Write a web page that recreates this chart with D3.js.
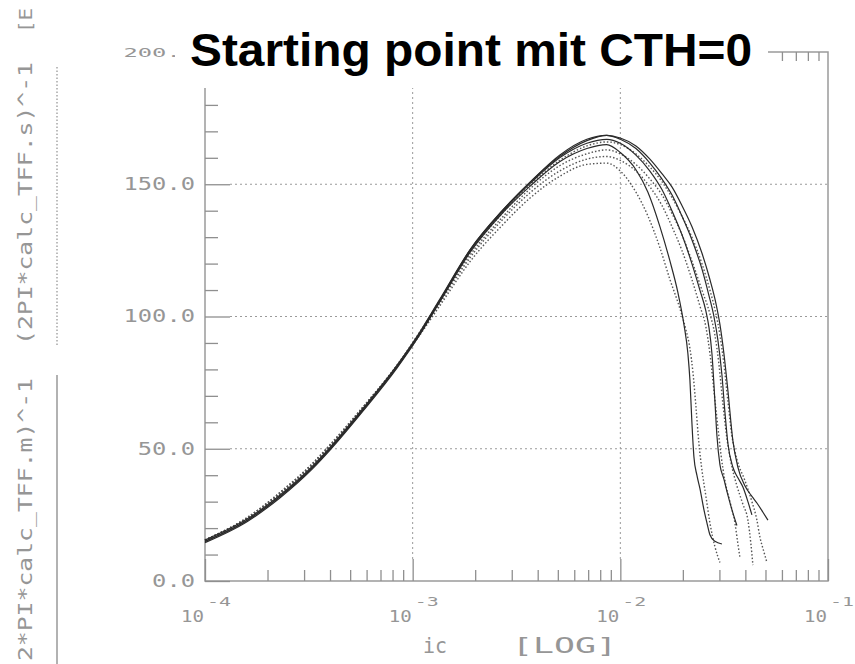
<!DOCTYPE html>
<html>
<head>
<meta charset="utf-8">
<script src="https://cdn.jsdelivr.net/npm/d3@7"></script>
<style>
  body { margin: 0; background: #fff; }
  .plot text { font-family: "DejaVu Sans Mono", monospace; fill: #969696; }
  .grid { stroke: #9a9a9a; stroke-width: 1; stroke-dasharray: 2,3; }
  .frame { stroke: #9a9a9a; stroke-width: 1.5; fill: none; }
  .axis path { display: none; }
  .axis line { stroke: #8f8f8f; stroke-width: 1.3; }
</style>
</head>
<body>
<svg id="chart" width="855" height="664"></svg>
<script>
// rising part, shared collector currents
var icGrid = [1.0e-4, 1.6e-4, 2.3e-4, 3.3e-4, 4.0e-4, 5.8e-4, 8.4e-4, 1.05e-3, 1.35e-3, 1.9e-3, 2.7e-3, 3.7e-3, 5.1e-3, 6.9e-3, 8.6e-3];

// measured (solid)
var m1Rise = [14.5, 22.5, 31.5, 42.5, 49.5, 64.5, 80.5, 91.5, 105.5, 124.5, 139, 149.5, 158.5, 163.5, 165];
var m2Rise = [15, 23, 32, 43, 50, 65, 81, 92, 106, 125, 139.5, 150.5, 160, 165.5, 167];
var m3Rise = [15, 23, 32, 43, 50, 65, 81, 92, 106, 125.5, 140, 151, 160.5, 166.5, 168.5];
var m4Rise = [15.5, 23.5, 32.5, 43.5, 50.5, 65.5, 81.5, 92.5, 106.5, 125.5, 140, 151, 161, 167, 168.5];
var m1Fall = [[1.0e-2, 162], [1.189e-2, 155.5], [1.358e-2, 147], [1.551e-2, 134], [1.733e-2, 121], [1.894e-2, 109], [2.024e-2, 97], [2.115e-2, 86], [2.163e-2, 76], [2.211e-2, 60], [2.261e-2, 47], [2.337e-2, 40], [2.416e-2, 35], [2.526e-2, 27], [2.612e-2, 22], [2.700e-2, 17.5], [2.854e-2, 15], [3.084e-2, 14]];
var m2Fall = [[1.0e-2, 165.5], [1.189e-2, 161], [1.388e-2, 155], [1.586e-2, 148], [1.772e-2, 140], [1.979e-2, 131], [2.211e-2, 120], [2.416e-2, 110], [2.583e-2, 102], [2.670e-2, 96], [2.761e-2, 86], [2.854e-2, 68], [2.918e-2, 55], [3.017e-2, 44], [3.153e-2, 38.5], [3.296e-2, 32.5], [3.445e-2, 27], [3.642e-2, 21]];
var m3Fall = [[1.0e-2, 167], [1.189e-2, 163.5], [1.388e-2, 158], [1.586e-2, 152], [1.772e-2, 146], [1.979e-2, 138], [2.211e-2, 129], [2.471e-2, 118], [2.670e-2, 108], [2.823e-2, 100], [2.951e-2, 91], [3.084e-2, 78], [3.188e-2, 64], [3.296e-2, 52], [3.484e-2, 43], [3.683e-2, 39], [3.893e-2, 35.5], [4.115e-2, 30], [4.301e-2, 25]];
var m4Fall = [[1.0e-2, 167.5], [1.189e-2, 164.5], [1.388e-2, 159.5], [1.586e-2, 154], [1.772e-2, 149], [1.979e-2, 142], [2.211e-2, 134], [2.471e-2, 124], [2.700e-2, 114], [2.886e-2, 105], [3.017e-2, 97], [3.153e-2, 86], [3.296e-2, 72], [3.484e-2, 53], [3.683e-2, 43], [3.980e-2, 36], [4.301e-2, 32], [4.547e-2, 29.5], [4.861e-2, 26], [5.137e-2, 23]];

// simulated (dotted)
var s1Rise = [15.5, 24, 33.5, 44.5, 51.5, 66, 81, 91.5, 104, 121, 134.5, 145, 153, 157.5, 158];
var s2Rise = [15.5, 24, 33.5, 44.5, 51.5, 66, 81.5, 92, 105, 122.5, 136.5, 147, 155, 159.5, 160.5];
var s3Rise = [15.5, 24, 33, 44, 51, 66, 81.5, 92.5, 105.5, 123.5, 137.5, 148.5, 157, 161.5, 163];
var s4Rise = [15.5, 23.5, 33, 44, 51, 65.5, 81.5, 92.5, 106, 124.5, 139, 150, 159, 164.5, 166];
var s1Fall = [[1.0e-2, 155], [1.189e-2, 147], [1.358e-2, 138], [1.551e-2, 126], [1.733e-2, 114], [1.936e-2, 103], [2.069e-2, 95], [2.163e-2, 88], [2.236e-2, 79], [2.312e-2, 66], [2.390e-2, 52], [2.471e-2, 42], [2.583e-2, 32], [2.700e-2, 22], [2.854e-2, 13], [3.017e-2, 7]];
var s2Fall = [[1.0e-2, 159], [1.189e-2, 155], [1.388e-2, 149], [1.586e-2, 142], [1.772e-2, 134], [1.979e-2, 125], [2.211e-2, 114], [2.416e-2, 104], [2.583e-2, 96], [2.700e-2, 86], [2.823e-2, 72], [2.951e-2, 58], [3.050e-2, 48], [3.188e-2, 38], [3.370e-2, 30], [3.562e-2, 22], [3.683e-2, 14], [3.765e-2, 9]];
var s3Fall = [[1.0e-2, 161.5], [1.189e-2, 157.5], [1.388e-2, 152], [1.586e-2, 146], [1.772e-2, 139], [1.979e-2, 131], [2.211e-2, 121], [2.471e-2, 110], [2.700e-2, 101], [2.854e-2, 93], [2.983e-2, 82], [3.118e-2, 67], [3.260e-2, 54], [3.407e-2, 45], [3.642e-2, 36], [3.893e-2, 29], [4.115e-2, 23], [4.254e-2, 14], [4.349e-2, 6]];
var s4Fall = [[1.0e-2, 165], [1.189e-2, 161.5], [1.388e-2, 156.5], [1.586e-2, 151], [1.772e-2, 145], [1.979e-2, 138], [2.211e-2, 130], [2.471e-2, 120], [2.700e-2, 110], [2.886e-2, 101], [3.017e-2, 93], [3.153e-2, 82], [3.296e-2, 68], [3.445e-2, 55], [3.642e-2, 46], [3.980e-2, 38], [4.301e-2, 30], [4.547e-2, 23], [4.701e-2, 16.6], [4.914e-2, 11], [5.080e-2, 7]];

var yMajor = [0, 50, 100, 150, 200];
var xDecades = [1e-4, 1e-3, 1e-2, 1e-1];
var xExponents = ["-4", "-3", "-2", "-1"];
var titleText = "Starting point mit CTH=0";
var labelS = "(2PI*calc_TFF.s)^-1";
var labelM = "(2*PI*calc_TFF.m)^-1";
var labelUnit = "[E";

function buildSeries(rise, fall) {
    return icGrid.map(function(c, i) { return { ic: c, v: rise[i] }; })
        .concat(fall.map(function(p) { return { ic: p[0], v: p[1] }; }));
}

var measured = [buildSeries(m1Rise, m1Fall), buildSeries(m2Rise, m2Fall), buildSeries(m3Rise, m3Fall), buildSeries(m4Rise, m4Fall)];
var simulated = [buildSeries(s1Rise, s1Fall), buildSeries(s2Rise, s2Fall), buildSeries(s3Rise, s3Fall), buildSeries(s4Rise, s4Fall)];

var svg = d3.select("#chart");
var g = svg.append("g").attr("class", "plot");

var plotL = 205, plotR = 828, plotT = 52, plotB = 581;

var xScale = d3.scaleLog().domain([1e-4, 1e-1]).range([plotL, plotR]);
var yScale = d3.scaleLinear().domain([0, 200]).range([plotB, plotT]);

// minor ticks
var xMinor = [];
xDecades.slice(0, 3).forEach(function(d) {
    for (var k = 2; k <= 9; k++) xMinor.push(d * k);
});
var yMinor = d3.range(0, 201, 10).filter(function(v) { return v % 50 != 0; });

// grid lines
g.selectAll(".hgrid").data([50, 100, 150]).enter().append("line")
    .attr("class", "grid")
    .attr("x1", plotL + 25).attr("x2", plotR)
    .attr("y1", function(d) { return yScale(d); })
    .attr("y2", function(d) { return yScale(d); });
g.selectAll(".vgrid").data([1e-3, 1e-2]).enter().append("line")
    .attr("class", "grid")
    .attr("x1", function(d) { return xScale(d); })
    .attr("x2", function(d) { return xScale(d); })
    .attr("y1", plotT).attr("y2", plotB - 22);

// frame
g.append("rect").attr("class", "frame")
    .attr("x", plotL).attr("y", plotT)
    .attr("width", plotR - plotL).attr("height", plotB - plotT);

// y axis
g.append("g").attr("class", "axis")
    .attr("transform", "translate(" + plotL + ",0)")
    .call(d3.axisRight(yScale).tickValues(yMinor).tickSize(13).tickFormat(""));
var yAx = g.append("g").attr("class", "axis")
    .attr("transform", "translate(" + plotL + ",0)")
    .call(d3.axisLeft(yScale).tickValues(yMajor).tickSize(-25).tickPadding(10)
        .tickFormat(function(d) { return d3.format(".1f")(d); }));
yAx.selectAll("text")
    .style("font-size", function(d) { return d == 200 ? "13px" : "17px"; })
    .attr("textLength", function(d) { return d3.format(".1f")(d).length * 14.3; })
    .attr("lengthAdjust", "spacingAndGlyphs");

// x axis (bottom and top)
g.append("g").attr("class", "axis")
    .attr("transform", "translate(0," + plotB + ")")
    .call(d3.axisBottom(xScale).tickValues(xMinor).tickSize(-11).tickFormat(""));
g.append("g").attr("class", "axis")
    .attr("transform", "translate(0," + plotB + ")")
    .call(d3.axisBottom(xScale).tickValues(xDecades).tickSize(-22).tickFormat(""));
g.append("g").attr("class", "axis")
    .attr("transform", "translate(0," + plotT + ")")
    .call(d3.axisTop(xScale).tickValues(xMinor).tickSize(-9).tickFormat(""));

// x tick labels 10^n
var xl = g.selectAll(".xlab").data(xDecades).enter().append("g")
    .attr("transform", function(d) { return "translate(" + xScale(d) + ",0)"; });
xl.append("text")
    .attr("x", -24).attr("y", 622)
    .style("font-size", "16px")
    .attr("textLength", 23).attr("lengthAdjust", "spacingAndGlyphs")
    .text("10");
xl.append("text")
    .attr("x", 2).attr("y", 606)
    .style("font-size", "13px")
    .attr("textLength", 24).attr("lengthAdjust", "spacingAndGlyphs")
    .text(function(d, i) { return xExponents[i]; });

// x axis title
g.append("text").attr("x", 423).attr("y", 653)
    .style("font-size", "21px")
    .attr("textLength", 24).attr("lengthAdjust", "spacingAndGlyphs")
    .text("ic");
g.append("text").attr("x", 512).attr("y", 653)
    .style("font-size", "21px")
    .attr("textLength", 105).attr("lengthAdjust", "spacingAndGlyphs")
    .text("[LOG]");

// curves
var line = d3.line()
    .x(function(d) { return xScale(d.ic); })
    .y(function(d) { return yScale(d.v); })
    .curve(d3.curveMonotoneX);

g.selectAll(".sim").data(simulated).enter().append("path")
    .attr("d", line)
    .attr("fill", "none")
    .attr("stroke", "#555")
    .attr("stroke-width", 1.4)
    .attr("stroke-dasharray", "1.5,2");

g.selectAll(".meas").data(measured).enter().append("path")
    .attr("d", line)
    .attr("fill", "none")
    .attr("stroke", "#2a2a2a")
    .attr("stroke-width", 1.2);

// left legend labels
g.append("text")
    .attr("transform", "translate(32,345) rotate(-90)")
    .style("font-size", "19px")
    .attr("textLength", 283).attr("lengthAdjust", "spacingAndGlyphs")
    .text(labelS);
g.append("text")
    .attr("transform", "translate(32,676) rotate(-90)")
    .style("font-size", "19px")
    .attr("textLength", 298).attr("lengthAdjust", "spacingAndGlyphs")
    .text(labelM);
g.append("text")
    .attr("transform", "translate(32,33) rotate(-90)")
    .style("font-size", "17px")
    .attr("textLength", 25).attr("lengthAdjust", "spacingAndGlyphs")
    .text(labelUnit);
g.append("line")
    .attr("x1", 57).attr("x2", 57).attr("y1", 67).attr("y2", 347)
    .attr("stroke", "#999").attr("stroke-width", 1.3).attr("stroke-dasharray", "1.5,2");
g.append("line")
    .attr("x1", 57).attr("x2", 57).attr("y1", 375).attr("y2", 664)
    .attr("stroke", "#999").attr("stroke-width", 1.5);

// title with white box over the frame
svg.append("rect")
    .attr("x", 175).attr("y", 0).attr("width", 593).attr("height", 88)
    .attr("fill", "#fff");
svg.append("text")
    .attr("x", 190).attr("y", 66)
    .style("font-family", "Liberation Sans, Arial, sans-serif")
    .style("font-weight", "bold")
    .style("font-size", "46px")
    .attr("textLength", 562).attr("lengthAdjust", "spacingAndGlyphs")
    .attr("fill", "#000")
    .text(titleText);
</script>
</body>
</html>
